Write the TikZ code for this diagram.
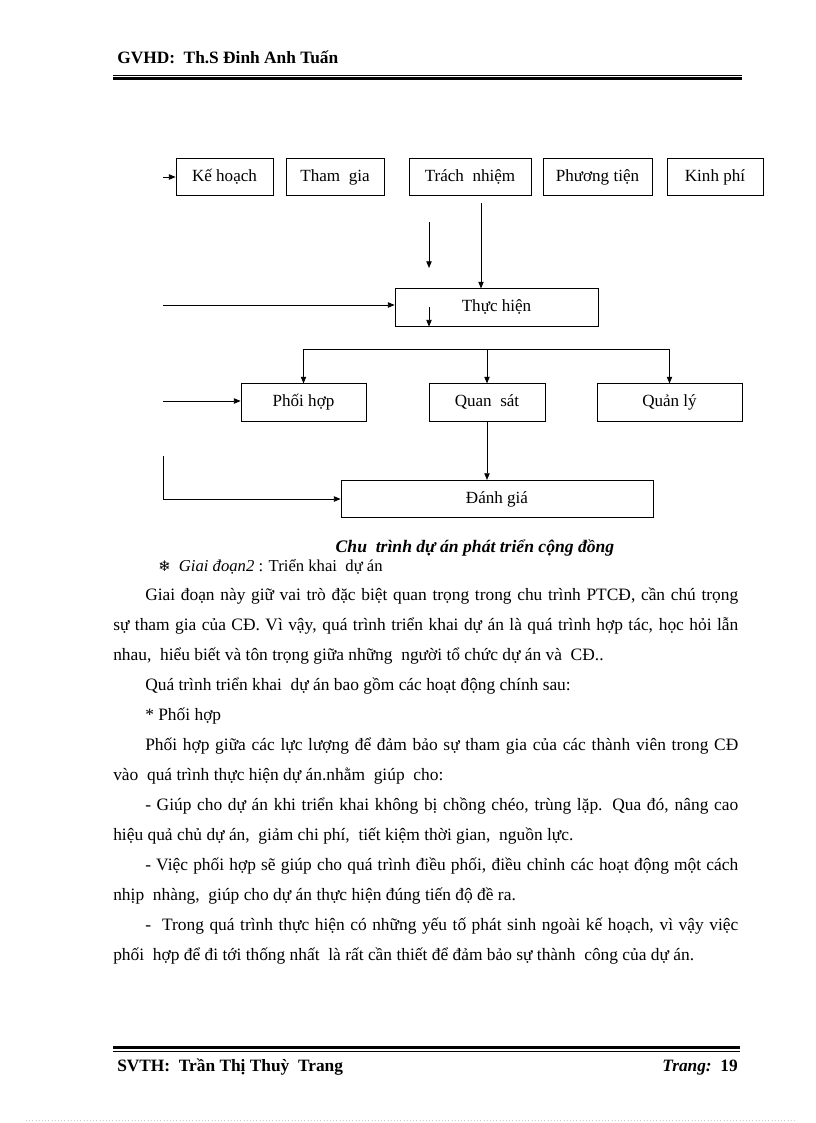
\documentclass[tikz,border=0pt]{standalone}
\usepackage{fontspec}
\setmainfont{Liberation Serif}
\newfontfamily\symfont{DejaVu Sans}
\usepackage{tikz}
\usetikzlibrary{arrows.meta, positioning}
\newcommand{\wideline}[1]{\hbox to 468.75pt{#1}}
\newcommand{\indline}[1]{\hbox to 444.75pt{#1}}

\begin{document}
\begin{tikzpicture}[x=0.75pt, y=-0.75pt,
  box/.style={rectangle, draw=black, line width=0.6pt, align=center,
              font=\fontsize{12.8}{14}\selectfont,
              text height=9pt, text depth=2.5pt,
              minimum height=28pt, inner sep=0pt},
  arr/.style={-{Triangle[length=5pt, width=4pt]}, line width=0.6pt},
  txt/.style={anchor=base west, inner sep=0pt,
              font=\fontsize{13.05}{16}\selectfont}
]
\useasboundingbox (0,0) rectangle (816,1123);

% header
\node[anchor=base west, inner sep=0pt, font=\bfseries\fontsize{13}{15}\selectfont]
  (hd) at (117,64) {GVHD:\ \ Th.S Đinh Anh Tuấn};
\draw[line width=0.6pt] (113,75) -- (742,75);
\draw[line width=2.4pt] (113,78.5) -- (742,78.5);

% first row
\node[box, minimum width=72.75pt] (kh) at (224.5,177) {Kế hoạch};
\node[box, minimum width=73.5pt]  (tg) at (335,177)   {Tham\ \ gia};
\node[box, minimum width=91.5pt]  (tn) at (470,177)   {Trách\ \ nhiệm};
\node[box, minimum width=81.75pt] (pt) at (597.5,177) {Phương tiện};
\node[box, minimum width=72pt]    (kp) at (715,177)   {Kinh phí};

% middle
\node[box, minimum width=152.25pt] (th) at (496.5,307.5) {Thực hiện};

% second row
\node[box, minimum width=93.75pt]  (ph) at (303.5,402.5) {Phối hợp};
\node[box, minimum width=87pt]     (qs) at (487,402.5)   {Quan\ \ sát};
\node[box, minimum width=108.75pt] (ql) at (669.5,402.5) {Quản lý};
\node[box, minimum width=234pt]    (dg) at (497,499)     {Đánh giá};

% free ends
\coordinate (in1) at (163,177);
\coordinate (in2) at (163,305);
\coordinate (in3) at (163,401);
\coordinate (in4) at (163,456);
\coordinate (s1)  at (429,222);
\coordinate (s2)  at (429,268);
\coordinate (s3)  at (429,307);
\coordinate (tnb) at (481,203);
\coordinate (br)  at (487,349);

\draw[arr] (in1) -- (kh.west);
\draw[arr] (s1) -- (s2);
\draw[arr] (tnb) -- (tnb |- th.north);
\draw[arr] (in2) -- (in2 -| th.west);
\draw[arr] (s3) -- (s3 |- th.south);
\draw[line width=0.6pt] (br -| ph.north) -- (br -| ql.north);
\draw[arr] (br -| ph.north) -- (ph.north);
\draw[arr] (br -| qs.north) -- (qs.north);
\draw[arr] (br -| ql.north) -- (ql.north);
\draw[arr] (in3) -- (in3 -| ph.west);
\draw[arr] (qs.south) -- (qs.south |- dg.north);
\draw[arr] (in4) |- (dg.west);

% caption and text
\node[anchor=base, inner sep=0pt, font=\bfseries\itshape\fontsize{13.2}{16}\selectfont]
  (cap) at (475,552) {Chu\ \ trình dự án phát triển cộng đồng};
\node[txt, font=\fontsize{12.5}{15}\selectfont] (st) at (158,571)
  {{\symfont\fontsize{11}{12}\selectfont ❄}\ \ {\itshape Giai đoạn2} : Triển khai\ \ dự án};

\node[txt] (l1)  at (145,600) {\indline{Giai đoạn này giữ vai trò đặc biệt quan trọng trong chu trình PTCĐ, cần chú trọng}};
\node[txt] (l2)  at (113,630) {\wideline{sự tham gia của CĐ. Vì vậy, quá trình triển khai dự án là quá trình hợp tác, học hỏi lẫn}};
\node[txt] (l3)  at (113,660) {nhau,\ \ hiểu biết và tôn trọng giữa những\ \ người tổ chức dự án và\ \ CĐ..};
\node[txt] (l4)  at (145,690) {Quá trình triển khai\ \ dự án bao gồm các hoạt động chính sau:};
\node[txt] (l5)  at (145,720) {* Phối hợp};
\node[txt] (l6)  at (145,750) {\indline{Phối hợp giữa các lực lượng để đảm bảo sự tham gia của các thành viên trong CĐ}};
\node[txt] (l7)  at (113,780) {vào\ \ quá trình thực hiện dự án.nhằm\ \ giúp\ \ cho:};
\node[txt] (l8)  at (145,810) {\indline{- Giúp cho dự án khi triển khai không bị chồng chéo, trùng lặp. Qua đó, nâng cao}};
\node[txt] (l9)  at (113,840) {hiệu quả chủ dự án,\ \ giảm chi phí,\ \ tiết kiệm thời gian,\ \ nguồn lực.};
\node[txt] (l10) at (145,870) {\indline{- Việc phối hợp sẽ giúp cho quá trình điều phối, điều chỉnh các hoạt động một cách}};
\node[txt] (l11) at (113,900) {nhịp\ \ nhàng,\ \ giúp cho dự án thực hiện đúng tiến độ đề ra.};
\node[txt] (l12) at (145,930) {\indline{-\ \ Trong quá trình thực hiện có những yếu tố phát sinh ngoài kế hoạch, vì vậy việc}};
\node[txt] (l13) at (113,960) {phối\ \ hợp để đi tới thống nhất\ \ là rất cần thiết để đảm bảo sự thành\ \ công của dự án.};

% footer
\draw[line width=2.4pt] (113,1047.5) -- (740,1047.5);
\draw[line width=0.6pt] (113,1051.5) -- (740,1051.5);
\node[anchor=base west, inner sep=0pt, font=\bfseries\fontsize{13}{15}\selectfont]
  (sv) at (117,1071) {SVTH:\ \ Trần Thị Thuỳ\ \ Trang};
\node[anchor=base east, inner sep=0pt, font=\bfseries\fontsize{13}{15}\selectfont]
  (pg) at (738,1071) {{\itshape Trang:}\ \ 19};
\draw[gray!40, dotted, line width=0.4pt] (26,1120) -- (795,1120);
\end{tikzpicture}
\end{document}
